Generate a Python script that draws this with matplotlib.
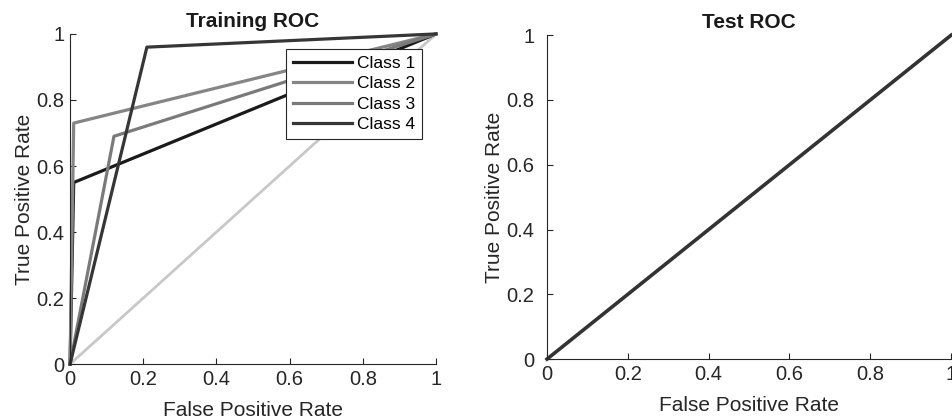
import numpy as np
import matplotlib.pyplot as plt

plt.rcParams['font.family'] = ['Liberation Sans', 'DejaVu Sans']

# training ROC points per class
class_names = ['Class 1', 'Class 2', 'Class 3', 'Class 4']
train_fpr = [[0, 0.01, 1], [0, 0.01, 1], [0, 0.12, 1], [0, 0.21, 1]]
train_tpr = [[0, 0.55, 1], [0, 0.73, 1], [0, 0.69, 1], [0, 0.96, 1]]
chance = [0, 1]

test_fpr = [0, 1]
test_tpr = [0, 1]

ticks = [0, 0.2, 0.4, 0.6, 0.8, 1]
tick_labels = ['0', '0.2', '0.4', '0.6', '0.8', '1']

colors = ['#1a1a1a', '#858585', '#7a7a7a', '#363636']

fig = plt.figure(figsize=(9.53, 4.19), dpi=100)
ax1 = fig.add_axes([0.0735, 0.131, 0.384, 0.788])
ax2 = fig.add_axes([0.574, 0.143, 0.424, 0.773])


def style(ax, title, ypad):
    ax.set_xlim(0, 1)
    ax.set_ylim(0, 1)
    ax.set_xticks(ticks)
    ax.set_xticklabels(tick_labels)
    ax.set_yticks(ticks)
    ax.set_yticklabels(tick_labels)
    ax.spines['top'].set_visible(False)
    ax.spines['right'].set_visible(False)
    for s in ['left', 'bottom']:
        ax.spines[s].set_color('#262626')
        ax.spines[s].set_linewidth(0.8)
    ax.tick_params(direction='in', length=4, labelsize=14.5, colors='#262626')
    ax.tick_params(axis='x', pad=4)
    ax.tick_params(axis='y', pad=ypad)
    ax.set_xlabel('False Positive Rate', fontsize=15, color='#262626', labelpad=9)
    ax.set_ylabel('True Positive Rate', fontsize=15, color='#262626', labelpad=2)
    ax.set_title(title, fontsize=15, fontweight='bold', color='#1a1a1a', pad=5)


ax1.plot(chance, chance, color='#c8c8c8', lw=2, clip_on=False)
for i in range(4):
    ax1.plot(train_fpr[i], train_tpr[i], color=colors[i], lw=2.3,
             label=class_names[i], clip_on=False)
style(ax1, 'Training ROC', 4)
leg = ax1.legend(loc='upper right', bbox_to_anchor=(0.962, 0.955), fontsize=12.5,
                 handlelength=3.4, handletextpad=0.3, labelspacing=0.3,
                 borderpad=0.4, borderaxespad=0, fancybox=False, framealpha=1)
leg.get_frame().set_edgecolor('#262626')
leg.get_frame().set_linewidth(0.8)

ax2.plot(test_fpr, test_tpr, color='#333333', lw=2.6, clip_on=False)
style(ax2, 'Test ROC', 9)

plt.savefig('out.png', dpi=100)
